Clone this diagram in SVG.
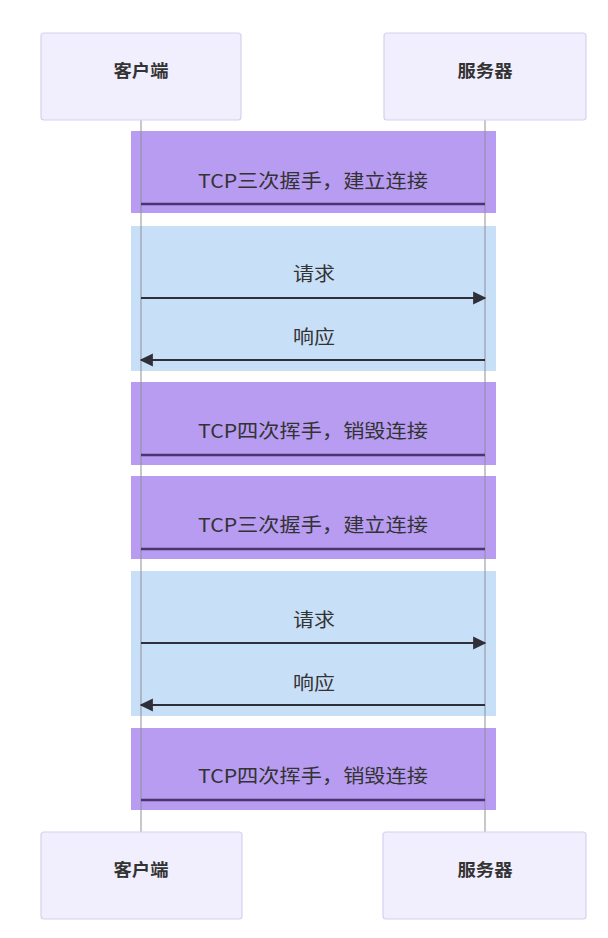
<svg xmlns="http://www.w3.org/2000/svg" width="608" height="938" viewBox="0 0 608 938">
<defs>
<style>
.actor{fill:#f1eefd;stroke:#d6d1ef;stroke-width:1.2}
.actor-t{font-family:"Noto Sans CJK SC","Noto Sans",sans-serif;font-size:17px;font-weight:bold;fill:#333;text-anchor:middle}
.life{stroke:#8f8f9a;stroke-width:1}
.purple{fill:#b79cf1}
.blue{fill:#c8dff8}
.lbl{font-family:"Noto Sans CJK SC","Noto Sans",sans-serif;font-size:19px;fill:#333;text-anchor:middle}
.msg{stroke:#2f2f3a;stroke-width:2.2;fill:none}
.msgp{stroke:#4a3570;stroke-width:2.6;fill:none}
</style>
<marker id="ah" viewBox="0 0 10 10" refX="9" refY="5" markerWidth="6" markerHeight="6" orient="auto-start-reverse">
<path d="M0,0 L10,5 L0,10 z" fill="#2f2f3a"/>
</marker>
</defs>
<rect width="608" height="938" fill="#ffffff"/>
<g id="boxes">
<rect class="purple" x="131" y="131" width="365" height="82"/>
<rect class="blue" x="131" y="226" width="365" height="145"/>
<rect class="purple" x="131" y="382" width="365" height="83"/>
<rect class="purple" x="131" y="476" width="365" height="83"/>
<rect class="blue" x="131" y="571" width="365" height="145"/>
<rect class="purple" x="131" y="728" width="365" height="82"/>
</g>
<g id="lifelines">
<line class="life" x1="141" y1="120" x2="141" y2="833"/>
<line class="life" x1="485" y1="120" x2="485" y2="833"/>
</g>
<g id="client-top"><rect class="actor" x="41" y="33" width="200" height="87" rx="3"/><text class="actor-t" x="141" y="72" dominant-baseline="middle" textLength="55" lengthAdjust="spacingAndGlyphs">客户端</text></g>
<g id="server-top"><rect class="actor" x="384" y="33" width="202" height="87" rx="3"/><text class="actor-t" x="485" y="72" dominant-baseline="middle" textLength="55" lengthAdjust="spacingAndGlyphs">服务器</text></g>
<g id="client-bottom"><rect class="actor" x="41" y="832" width="201" height="87" rx="3"/><text class="actor-t" x="141" y="871" dominant-baseline="middle" textLength="55" lengthAdjust="spacingAndGlyphs">客户端</text></g>
<g id="server-bottom"><rect class="actor" x="383" y="832" width="203" height="87" rx="3"/><text class="actor-t" x="485" y="871" dominant-baseline="middle" textLength="55" lengthAdjust="spacingAndGlyphs">服务器</text></g>
<g id="connectors">
<line class="msgp" x1="141" y1="204" x2="485" y2="204"/>
<line class="msg" x1="141" y1="298" x2="485" y2="298" marker-end="url(#ah)"/>
<line class="msg" x1="485" y1="360" x2="141" y2="360" marker-end="url(#ah)"/>
<line class="msgp" x1="141" y1="455" x2="485" y2="455"/>
<line class="msgp" x1="141" y1="549" x2="485" y2="549"/>
<line class="msg" x1="141" y1="643" x2="485" y2="643" marker-end="url(#ah)"/>
<line class="msg" x1="485" y1="705" x2="141" y2="705" marker-end="url(#ah)"/>
<line class="msgp" x1="141" y1="800" x2="485" y2="800"/>
</g>
<g id="labels">
<text class="lbl" x="313" y="183" dominant-baseline="middle" textLength="230" lengthAdjust="spacingAndGlyphs">TCP三次握手，建立连接</text>
<text class="lbl" x="314" y="276" dominant-baseline="middle" textLength="42" lengthAdjust="spacingAndGlyphs">请求</text>
<text class="lbl" x="314" y="339" dominant-baseline="middle" textLength="42" lengthAdjust="spacingAndGlyphs">响应</text>
<text class="lbl" x="313" y="433" dominant-baseline="middle" textLength="230" lengthAdjust="spacingAndGlyphs">TCP四次挥手，销毁连接</text>
<text class="lbl" x="313" y="527" dominant-baseline="middle" textLength="230" lengthAdjust="spacingAndGlyphs">TCP三次握手，建立连接</text>
<text class="lbl" x="314" y="622" dominant-baseline="middle" textLength="42" lengthAdjust="spacingAndGlyphs">请求</text>
<text class="lbl" x="314" y="685" dominant-baseline="middle" textLength="42" lengthAdjust="spacingAndGlyphs">响应</text>
<text class="lbl" x="313" y="778" dominant-baseline="middle" textLength="230" lengthAdjust="spacingAndGlyphs">TCP四次挥手，销毁连接</text>
</g>
</svg>
